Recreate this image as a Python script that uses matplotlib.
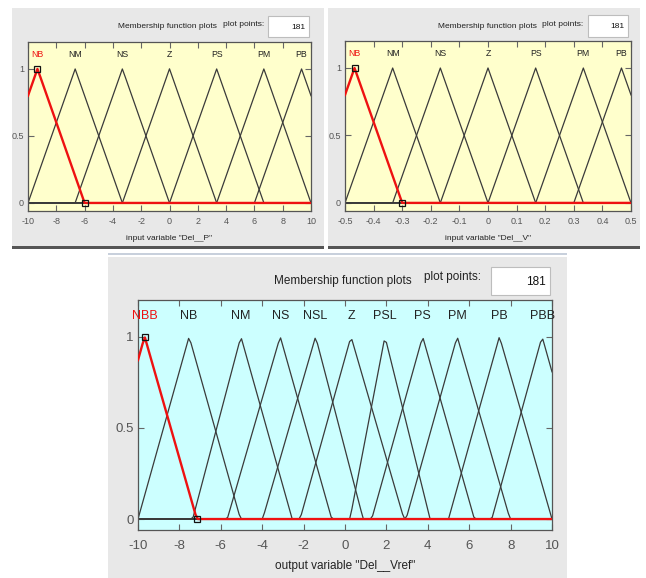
import matplotlib
matplotlib.use("Agg")
import matplotlib.pyplot as plt
from matplotlib.patches import Rectangle
import numpy as np

# fuzzy sets: [left foot, peak, right foot]
names_p = ["NB", "NM", "NS", "Z", "PS", "PM", "PB"]
params_p = [[-12.67, -9.33, -6.0], [-10.0, -6.67, -3.33], [-6.67, -3.33, 0.0],
            [-3.33, 0.0, 3.33], [0.0, 3.33, 6.67], [3.33, 6.67, 10.0],
            [6.0, 9.33, 12.67]]
ticks_p = [-10, -8, -6, -4, -2, 0, 2, 4, 6, 8, 10]

names_v = ["NB", "NM", "NS", "Z", "PS", "PM", "PB"]
params_v = [[-0.6333, -0.4667, -0.3], [-0.5, -0.3333, -0.1667], [-0.3333, -0.1667, 0.0],
            [-0.1667, 0.0, 0.1667], [0.0, 0.1667, 0.3333], [0.1667, 0.3333, 0.5],
            [0.3, 0.4667, 0.6333]]
ticks_v = [-0.5, -0.4, -0.3, -0.2, -0.1, 0, 0.1, 0.2, 0.3, 0.4, 0.5]
ticklabels_v = ["-0.5", "-0.4", "-0.3", "-0.2", "-0.1", "0", "0.1", "0.2", "0.3", "0.4", "0.5"]

names_vref = ["NBB", "NB", "NM", "NS", "NSL", "Z", "PSL", "PS", "PM", "PB", "PBB"]
params_vref = [[-12.15, -9.68, -7.16], [-10.0, -7.53, -5.05], [-7.36, -5.03, -2.55],
               [-5.69, -3.13, -0.64], [-3.98, -1.42, 0.88], [-2.17, 0.29, 2.85],
               [0.24, 1.93, 4.11], [1.29, 3.75, 6.25], [2.95, 5.42, 7.97],
               [5.0, 7.46, 10.0], [7.09, 9.52, 12.0]]
ticks_vref = [-10, -8, -6, -4, -2, 0, 2, 4, 6, 8, 10]

n_points = 181

W, H = 646, 578
plt.rcParams['font.family'] = ['Liberation Sans', 'DejaVu Sans']
fig = plt.figure(figsize=(W / 100, H / 100), dpi=100)
fig.patch.set_facecolor("white")


def fx(x):
    return x / W


def fy(y):
    return 1 - y / H


def box(x0, y0, x1, y1, fc, ec="none", lw=0):
    fig.add_artist(Rectangle((fx(x0), fy(y1)), (x1 - x0) / W, (y1 - y0) / H,
                             transform=fig.transFigure, fc=fc, ec=ec, lw=lw, zorder=0))


def trimf(x, a, b, c):
    return np.interp(x, [a, b, c], [0, 1, 0], left=0, right=0)


def mf_panel(panel, axbox, xlim, names, params, ticks, ticklabels, xlabel, face,
             fs_head, fs_name, fs_tick, head, pts_box, xlabel_y, pad):
    px0, py0, px1, py1 = panel
    box(px0, py0, px1, py1, "#e8e8e8")
    # header texts and the plot points box
    tx, ty, ppx, ppy = head
    fig.text(fx(tx), fy(ty), "Membership function plots", ha="center", va="center",
             fontsize=fs_head, color="#222222")
    fig.text(fx(ppx), fy(ppy), "plot points:", ha="center", va="center",
             fontsize=fs_head, color="#222222")
    bx0, by0, bx1, by1 = pts_box
    box(bx0, by0, bx1, by1, "white", ec="#bdbdbd", lw=0.8)
    fig.text(fx(bx1 - 4), fy((by0 + by1) / 2 + 1), str(n_points), ha="right", va="center",
             fontsize=fs_head, color="#111111")

    ax0, ay0, ax1, ay1 = axbox
    ax = fig.add_axes([fx(ax0), fy(ay1), (ax1 - ax0) / W, (ay1 - ay0) / H])
    ax.set_facecolor(face)
    x = np.linspace(xlim[0], xlim[1], n_points)
    for i, (a, b, c) in enumerate(params):
        if i == 0:
            continue
        ax.plot(x, trimf(x, a, b, c), color="#3a3a3a", lw=0.9, zorder=2)
    a, b, c = params[0]
    ax.plot(x, trimf(x, a, b, c), color="#ee1111", lw=1.7, zorder=3)
    ax.plot([b, c], [1, 0], ls="none", marker="s", ms=4.5, mfc="none", mec="#111111",
            mew=0.9, zorder=4, clip_on=False)
    for i, (name, p) in enumerate(zip(names, params)):
        ax.text(p[1], 1.11, name, ha="center", va="center", fontsize=fs_name,
                color="#ee1111" if i == 0 else "#222222")
    ax.set_xlim(xlim)
    ax.set_ylim(-0.06, 1.2)
    ax.set_xticks(ticks)
    ax.set_xticklabels(ticklabels)
    ax.set_yticks([0, 0.5, 1])
    ax.set_yticklabels(["0", "0.5", "1"])
    ax.tick_params(direction="in", top=True, right=True, length=4, width=0.8,
                   color="#666666", labelcolor="#555555", labelsize=fs_tick)
    ax.tick_params(axis="x", pad=pad)
    ax.tick_params(axis="y", pad=3)
    for s in ax.spines.values():
        s.set_color("#555555")
        s.set_linewidth(0.9)
    fig.text(fx((ax0 + ax1) / 2), fy(xlabel_y), xlabel, ha="center", va="center",
             fontsize=fs_head, color="#222222")
    return ax


mf_panel((12, 8, 324, 247), (28, 42, 311, 211), (-10, 10), names_p, params_p,
         ticks_p, [str(t) for t in ticks_p], 'input variable "Del__P"', "#ffffcc",
         6, 6.3, 6.5, (167, 27, 244, 25), (268, 16, 309, 37), 238, 4)

mf_panel((328, 8, 640, 247), (345, 41, 631, 211), (-0.5, 0.5), names_v, params_v,
         ticks_v, ticklabels_v, 'input variable "Del__V"', "#ffffcc",
         6, 6.3, 6.5, (487, 26, 563, 24), (588, 15, 628, 37), 238, 4)

mf_panel((108, 257, 567, 578), (138, 300, 552, 530), (-10, 10), names_vref, params_vref,
         ticks_vref, [str(t) for t in ticks_vref], 'output variable "Del__Vref"', "#ccffff",
         8.5, 9, 9.5, (343, 281, 453, 277), (491, 267, 550, 295), 566, 7)

# frame lines of the upper panels
box(12, 246, 324, 249, "#555555")
box(328, 246, 640, 249, "#555555")
box(108, 253, 567, 255, "#c8d0dc")

fig.savefig("out.png", dpi=100)
